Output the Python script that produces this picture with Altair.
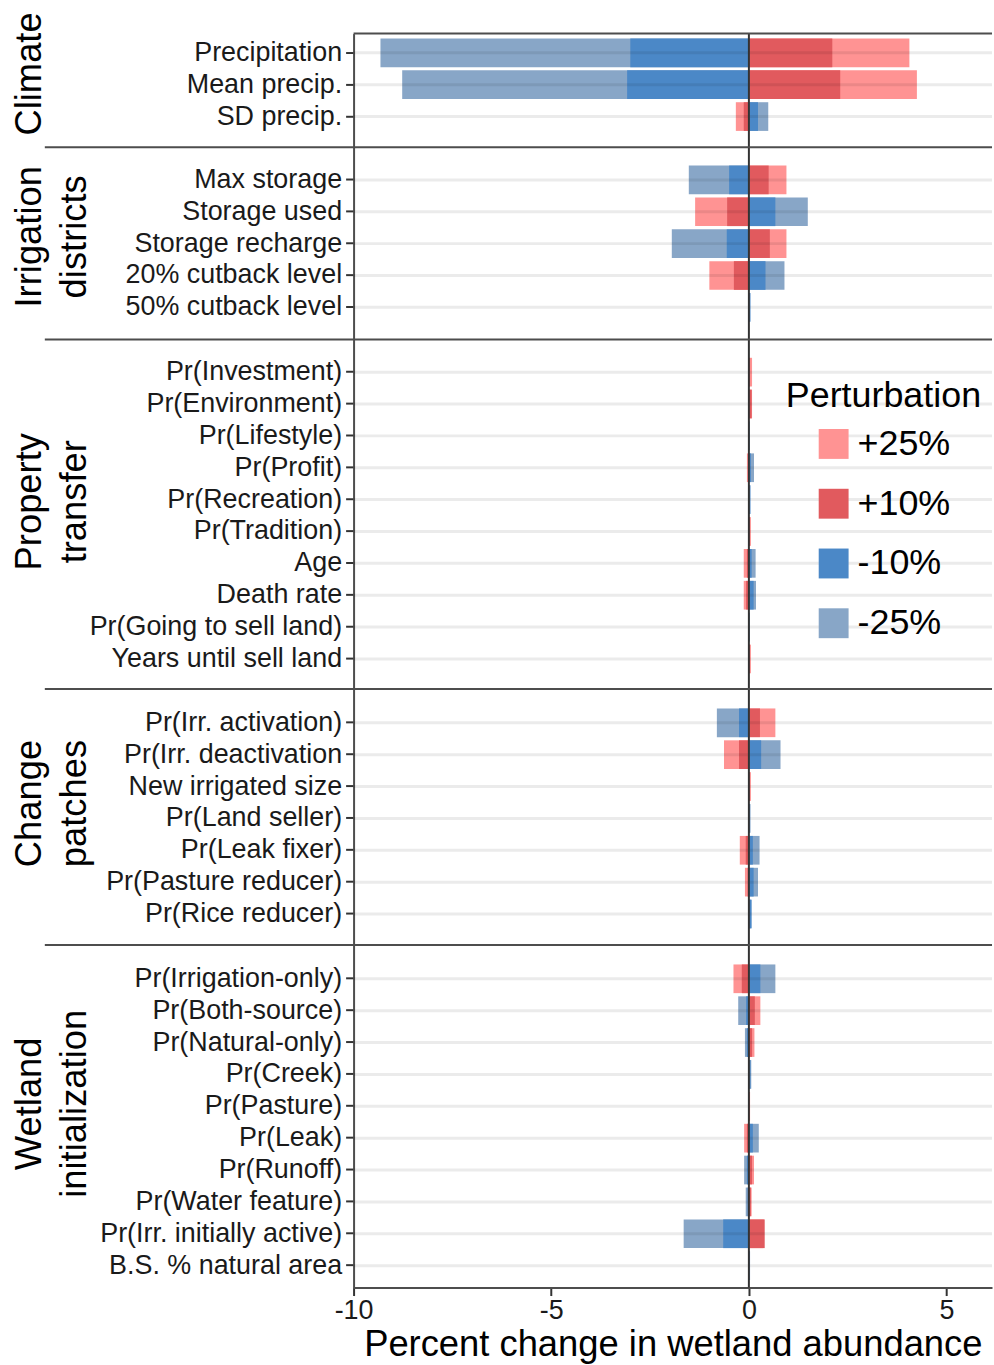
import altair as alt
import pandas as pd

FONT = "Liberation Sans"

# Perturbation levels, their fill colours and the order they are painted in
pert_levels = ["+25%", "+10%", "-10%", "-25%"]
pert_colors = ["#FF9393", "#E15A5E", "#4B88C7", "#88A6C7"]
draw_rank = {"+25%": 0, "-25%": 1, "+10%": 2, "-10%": 3}

# ---- Climate ----
climate_vars = ["Precipitation", "Mean precip.", "SD precip."]
climate_p25 = [4.06, 4.25, -0.33]
climate_p10 = [2.11, 2.31, -0.13]
climate_m10 = [-3.00, -3.08, 0.23]
climate_m25 = [-9.32, -8.77, 0.49]

# ---- Irrigation districts ----
irr_vars = ["Max storage", "Storage used", "Storage recharge",
            "20% cutback level", "50% cutback level"]
irr_p25 = [0.95, -1.36, 0.95, -1.00, 0.00]
irr_p10 = [0.50, -0.55, 0.53, -0.38, 0.00]
irr_m10 = [-0.50, 0.67, -0.56, 0.42, 0.04]
irr_m25 = [-1.52, 1.49, -1.95, 0.90, 0.03]

# ---- Property transfer ----
prop_vars = ["Pr(Investment)", "Pr(Environment)", "Pr(Lifestyle)", "Pr(Profit)",
             "Pr(Recreation)", "Pr(Tradition)", "Age", "Death rate",
             "Pr(Going to sell land)", "Years until sell land"]
prop_p25 = [0.08, 0.08, 0.00, -0.05, 0.00, 0.05, -0.13, -0.13, 0.00, 0.05]
prop_p10 = [0.03, 0.07, 0.00, -0.02, 0.00, 0.03, -0.05, -0.07, 0.00, 0.03]
prop_m10 = [0.00, 0.00, 0.02, 0.05, 0.04, 0.00, 0.07, 0.12, 0.02, 0.00]
prop_m25 = [-0.02, -0.02, 0.01, 0.13, 0.03, -0.01, 0.17, 0.18, 0.01, -0.01]

# ---- Change patches ----
change_vars = ["Pr(Irr. activation)", "Pr(Irr. deactivation", "New irrigated size",
               "Pr(Land seller)", "Pr(Leak fixer)", "Pr(Pasture reducer)",
               "Pr(Rice reducer)"]
change_p25 = [0.67, -0.63, 0.05, 0.00, -0.23, -0.10, 0.00]
change_p10 = [0.28, -0.25, 0.03, 0.00, -0.08, -0.03, 0.00]
change_m10 = [-0.25, 0.31, 0.00, 0.03, 0.10, 0.12, 0.07]
change_m25 = [-0.81, 0.80, 0.00, 0.04, 0.27, 0.23, 0.05]

# ---- Wetland initialization ----
wet_vars = ["Pr(Irrigation-only)", "Pr(Both-source)", "Pr(Natural-only)",
            "Pr(Creek)", "Pr(Pasture)", "Pr(Leak)", "Pr(Runoff)",
            "Pr(Water feature)", "Pr(Irr. initially active)", "B.S. % natural area"]
wet_p25 = [-0.39, 0.29, 0.14, 0.00, 0.03, -0.12, 0.13, 0.07, 0.38, 0.00]
wet_p10 = [-0.18, 0.15, 0.08, 0.00, 0.02, -0.05, 0.08, 0.05, 0.40, 0.00]
wet_m10 = [0.29, -0.07, -0.05, 0.04, 0.00, 0.10, -0.05, -0.03, -0.65, 0.02]
wet_m25 = [0.67, -0.27, -0.10, 0.06, 0.00, 0.25, -0.12, -0.08, -1.65, 0.03]

# group title, variables, series (same order as pert_levels), panel height,
# outer band padding, band alignment, vertical shift of the group title
groups = [
    (["Climate"], climate_vars,
     [climate_p25, climate_p10, climate_m10, climate_m25], 114, 0.331, 0.23, -17),
    (["Irrigation", "districts"], irr_vars,
     [irr_p25, irr_p10, irr_m10, irr_m25], 193, 0.566, 0.51, -7),
    (["Property", "transfer"], prop_vars,
     [prop_p25, prop_p10, prop_m10, prop_m25], 351, 0.535, 0.54, -13),
    (["Change", "patches"], change_vars,
     [change_p25, change_p10, change_m10, change_m25], 257, 0.566, 0.54, -14),
    (["Wetland", "initialization"], wet_vars,
     [wet_p25, wet_p10, wet_m10, wet_m25], 344, 0.425, 0.72, -13),
]

W = 641
X_MIN, X_MAX = -10, 6.15
STRIP_LEFT = -310
BORDER = "#4D4D4D"

xscale = alt.Scale(domain=[X_MIN, X_MAX], nice=False, zero=False)
color_scale = alt.Scale(domain=pert_levels, range=pert_colors)


def panel(idx, title_lines, vars_, series, height, pad_outer, align, title_shift):
    is_first = idx == 0
    is_last = idx == len(groups) - 1
    show_legend = idx == 2

    rows = []
    for pert, vals in zip(pert_levels, series):
        for v, x in zip(vars_, vals):
            rows.append({"var": v, "pert": pert, "value": x,
                         "rank": draw_rank[pert]})
    df = pd.DataFrame(rows).sort_values("rank", kind="stable")

    yscale = alt.Scale(domain=vars_, paddingInner=0.1,
                       paddingOuter=pad_outer, align=align)

    yaxis = alt.Axis(
        title=title_lines, titleAngle=270, titleAlign="center",
        titleBaseline="alphabetic", titleX=-314, titleY=height / 2 + title_shift,
        titleFontSize=36.5, titleFontWeight="normal", titleColor="black",
        titleLineHeight=45,
        labelFontSize=27, labelColor="#1a1a1a", labelPadding=4, labelLimit=500,
        tickSize=8, tickWidth=2, tickColor="#333333", bandPosition=0.5,
        domain=True, domainColor=BORDER, domainWidth=2, grid=False,
    )

    if is_last:
        xaxis = alt.Axis(
            values=[-10, -5, 0, 5],
            labelExpr="datum.value < 0 ? '-' + abs(datum.value) : '' + datum.value",
            title="Percent change in wetland abundance",
            titleFontSize=36.5, titleFontWeight="normal", titleColor="black",
            titlePadding=3,
            labelFontSize=27, labelColor="#1a1a1a", labelPadding=2,
            labelFlush=False,
            tickSize=8, tickWidth=2, tickColor="#333333",
            domain=True, domainColor=BORDER, domainWidth=2, grid=False,
        )
    else:
        xaxis = None

    if show_legend:
        legend = alt.Legend(
            title="Perturbation", orient="none", legendX=434, legendY=40,
            titleFontSize=36, titleFontWeight="normal", titleColor="black",
            titleAnchor="middle", titlePadding=11, titleLimit=600,
            labelFontSize=36, labelColor="black", labelOffset=6,
            symbolType="square", symbolSize=900, symbolStrokeWidth=0,
            symbolOpacity=1, rowPadding=24, padding=0,
        )
    else:
        legend = None

    bars = alt.Chart(df).mark_bar().encode(
        x=alt.X("value:Q", stack=None, scale=xscale, axis=xaxis),
        x2=alt.datum(0),
        y=alt.Y("var:N", scale=yscale, axis=yaxis),
        color=alt.Color("pert:N", scale=color_scale, legend=legend),
        order=alt.Order("rank:Q"),
    )

    # horizontal guide lines, showing faintly through the bars
    grid = alt.Chart(pd.DataFrame({"var": vars_})).mark_rule(
        color="black", opacity=0.08, strokeWidth=3
    ).encode(
        y=alt.Y("var:N", scale=yscale, axis=yaxis),
        x=alt.value(0), x2=alt.value(W),
    )

    zero = alt.Chart(pd.DataFrame({"value": [0.0]})).mark_rule(
        color="#333333", strokeWidth=2
    ).encode(
        x=alt.X("value:Q", scale=xscale, axis=xaxis),
        y=alt.value(0), y2=alt.value(height),
    )

    top = alt.Chart(pd.DataFrame({"value": [0.0]})).mark_rule(
        color=BORDER, strokeWidth=2
    ).encode(
        x=alt.value(0 if is_first else STRIP_LEFT), x2=alt.value(W),
        y=alt.value(0),
    )

    return alt.layer(bars, grid, zero, top).properties(width=W, height=height)


panels = [panel(i, *g) for i, g in enumerate(groups)]

chart = (
    alt.vconcat(*panels, spacing=0, bounds="flush")
    .resolve_scale(y="independent", color="independent", x="shared")
    .resolve_legend(color="independent")
    .properties(padding={"left": 12, "top": 9, "right": 0, "bottom": 0})
    .configure(font=FONT)
    .configure_view(stroke=None)
)

chart.save("out.html", embed_options={"renderer": "svg", "actions": False})
